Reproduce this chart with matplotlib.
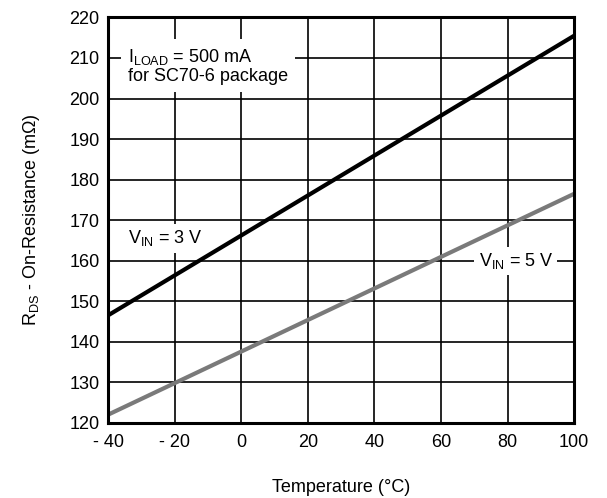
import matplotlib
matplotlib.use("Agg")
import matplotlib.pyplot as plt

plt.rcParams['font.family'] = ['Liberation Sans', 'DejaVu Sans']
plt.rcParams['mathtext.fontset'] = 'custom'
plt.rcParams['mathtext.rm'] = 'Liberation Sans'

# data
temp = [-40, 100]
rds_3v = [146.5, 215.5]
rds_5v = [122.0, 176.5]
xticks = [-40, -20, 0, 20, 40, 60, 80, 100]
xtick_labels = ['- 40', '- 20', '0', '20', '40', '60', '80', '100']
yticks = [120, 130, 140, 150, 160, 170, 180, 190, 200, 210, 220]

fs = 13
fig = plt.figure(figsize=(6.07, 4.98), dpi=100)
ax = fig.add_axes([0.178, 0.151, 0.768, 0.814])

ax.plot(temp, rds_5v, color='#7a7a7a', lw=3, solid_capstyle='butt', zorder=3)
ax.plot(temp, rds_3v, color='black', lw=3, solid_capstyle='butt', zorder=3)

ax.set_xlim(-40, 100)
ax.set_ylim(120, 220)
ax.set_xticks(xticks)
ax.set_xticklabels(xtick_labels)
ax.set_yticks(yticks)
ax.tick_params(axis='x', length=0, labelsize=fs, pad=8)
ax.tick_params(axis='y', length=0, labelsize=fs, pad=6)
ax.grid(True, color='black', lw=1.2)
for s in ax.spines.values():
    s.set_linewidth(2.2)
    s.set_zorder(4)

ax.set_xlabel('Temperature (°C)', fontsize=fs, labelpad=20)
ax.set_ylabel(r'R$_{\mathrm{DS}}$ - On-Resistance (m$\Omega$)', fontsize=fs, labelpad=20)

box = dict(facecolor='white', edgecolor='none', pad=3)
ax.text(-34, 208, 'I$_{\\mathrm{LOAD}}$ = 500 mA\nfor SC70-6 package', fontsize=fs,
        va='center', ha='left', bbox=dict(facecolor='white', edgecolor='none', pad=5),
        linespacing=1.12, zorder=2)
ax.text(-34, 165.5, 'V$_{\\mathrm{IN}}$ = 3 V', fontsize=fs, va='center', ha='left',
        bbox=box, zorder=2)
ax.text(82.5, 160, 'V$_{\\mathrm{IN}}$ = 5 V', fontsize=fs, va='center', ha='center',
        bbox=box, zorder=2)

fig.savefig('out.png', dpi=100)
